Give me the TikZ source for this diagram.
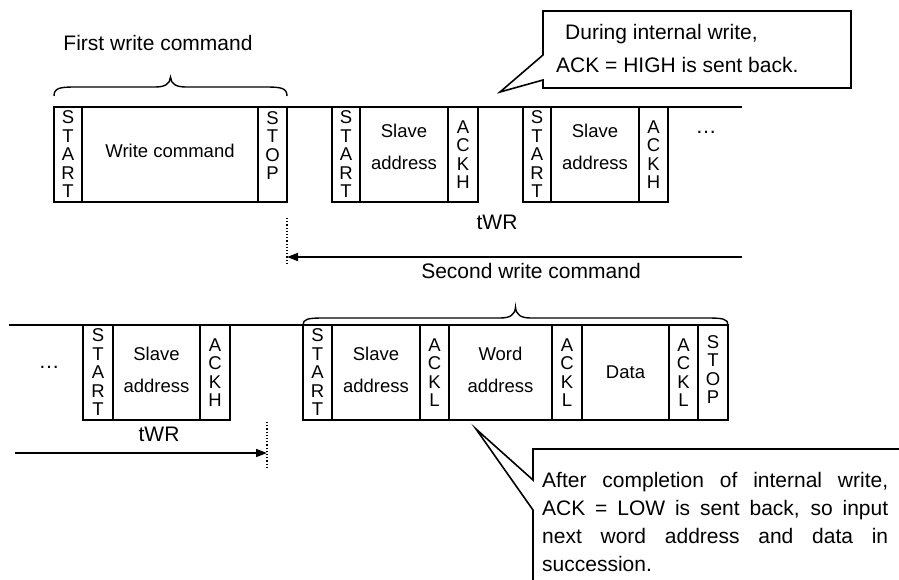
\documentclass[tikz,border=0pt]{standalone}
\usepackage{fontspec}
\setmainfont{Liberation Sans}
\usetikzlibrary{arrows.meta}
\begin{document}
\begin{tikzpicture}[x=1pt,y=-1pt,
  ln/.style={line width=1.6pt},
  cell/.style={draw,line width=1.6pt,minimum height=95pt,inner sep=0pt,outer sep=0pt},
  vtxt/.style={align=center,inner sep=0pt,font=\fontsize{18.5}{18.5}\selectfont},
  btxt/.style={align=center,inner sep=0pt,font=\fontsize{18.5}{32}\selectfont},
  lbl/.style={inner sep=0pt,font=\fontsize{21}{25}\selectfont},
  arr/.style={line width=1.6pt,-{Triangle[length=11pt,width=8pt]}},
  vdot/.style={line width=1.2pt,dotted}]
\useasboundingbox (0,0) rectangle (899,579);
\clip (0,0) rectangle (899,579);
% ---------- top row ----------
\node[cell,minimum width=28pt] (s1) at (68,154.5) {};
\node[cell,minimum width=176pt] (wc) at (170,154.5) {};
\node[cell,minimum width=29pt] (p1) at (272.5,154.5) {};
\node[cell,minimum width=28pt] (s2) at (346,154.5) {};
\node[cell,minimum width=88pt] (sa1) at (404,154.5) {};
\node[cell,minimum width=30pt] (a1) at (463,154.5) {};
\node[cell,minimum width=28pt] (s3) at (537,154.5) {};
\node[cell,minimum width=88pt] (sa2) at (595,154.5) {};
\node[cell,minimum width=29pt] (a2) at (653.5,154.5) {};
\node[vtxt] (s1t) at (s1) {S\\T\\A\\R\\T};
\node[btxt,yshift=4pt] (wct) at (wc) {Write command};
\node[vtxt,yshift=9pt] (p1t) at (p1) {S\\T\\O\\P};
\node[vtxt] (s2t) at (s2) {S\\T\\A\\R\\T};
\node[btxt,yshift=8pt] (sa1t) at (sa1) {Slave\\address};
\node[vtxt] (a1t) at (a1) {A\\C\\K\\H};
\node[vtxt] (s3t) at (s3) {S\\T\\A\\R\\T};
\node[btxt,yshift=8pt] (sa2t) at (sa2) {Slave\\address};
\node[vtxt] (a2t) at (a2) {A\\C\\K\\H};
\coordinate (tend) at (742,107);
\draw[ln] (p1.north east) -- (s2.north west);
\draw[ln] (a1.north east) -- (s3.north west);
\draw[ln] (a2.north east) -- (tend);
\node[lbl] (tdots) at (706,132) {…};
% first brace
\draw[line width=1.4pt] (54,96) .. controls (54,88) and (60,87) .. (75,87) -- (155,87)
  .. controls (165,87) and (170,84) .. (170.5,77) .. controls (171,84) and (176,87) .. (186,87)
  -- (266,87) .. controls (281,87) and (287,88) .. (287,96);
\node[lbl] (fwc) at (158,43) {First write command};
% callout 1
\draw[ln] (543,11) -- (851,11) -- (851,88) -- (543,88) -- (543,80) -- (500,92) -- (543,55) -- cycle;
\node[lbl,align=left,anchor=west,font=\fontsize{21}{33}\selectfont] (c1txt) at (556,48.5)
  {\hspace*{9pt}During internal write,\\ACK = HIGH is sent back.};
% tWR top
\node[lbl] (twr1) at (497,222) {tWR};
\coordinate (d1a) at (287,218);
\coordinate (d1b) at (287,264);
\draw[vdot] (d1a) -- (d1b);
\coordinate (ta) at (742,257);
\coordinate (tb) at (287,257);
\draw[arr] (ta) -- (tb);
\node[lbl] (swc) at (531,271) {Second write command};
% ---------- bottom row ----------
\node[cell,minimum width=30pt] (b1) at (98,372.5) {};
\node[cell,minimum width=87pt] (bsa) at (156.5,372.5) {};
\node[cell,minimum width=30pt] (ba) at (215,372.5) {};
\node[cell,minimum width=29pt] (c1) at (317.5,372.5) {};
\node[cell,minimum width=88pt] (c2) at (376,372.5) {};
\node[cell,minimum width=29pt] (c3) at (434.5,372.5) {};
\node[cell,minimum width=103pt] (c4) at (500.5,372.5) {};
\node[cell,minimum width=30pt] (c5) at (567,372.5) {};
\node[cell,minimum width=87pt] (c6) at (625.5,372.5) {};
\node[cell,minimum width=29pt] (c7) at (683.5,372.5) {};
\node[cell,minimum width=30pt] (c8) at (713,372.5) {};
\node[vtxt] (b1t) at (b1) {S\\T\\A\\R\\T};
\node[btxt,yshift=3pt] (bsat) at (bsa) {Slave\\address};
\node[vtxt] (bat) at (ba) {A\\C\\K\\H};
\node[vtxt] (c1t) at (c1) {S\\T\\A\\R\\T};
\node[btxt,yshift=3pt] (c2t) at (c2) {Slave\\address};
\node[vtxt] (c3t) at (c3) {A\\C\\K\\L};
\node[btxt,yshift=3pt] (c4t) at (c4) {Word\\address};
\node[vtxt] (c5t) at (c5) {A\\C\\K\\L};
\node[btxt] (c6t) at (c6) {Data};
\node[vtxt] (c7t) at (c7) {A\\C\\K\\L};
\node[vtxt,yshift=3pt] (c8t) at (c8) {S\\T\\O\\P};
\coordinate (bstart) at (9,325);
\draw[ln] (bstart) -- (b1.north west);
\draw[ln] (ba.north east) -- (c1.north west);
\node[lbl] (bdots) at (49,367) {…};
% second brace
\draw[line width=1.4pt] (303,325) .. controls (303,319) and (308,318) .. (323,318) -- (500,318)
  .. controls (510,318) and (515,315) .. (515.5,307) .. controls (516,315) and (521,318) .. (531,318)
  -- (708,318) .. controls (723,318) and (728,319) .. (728,325);
% tWR bottom
\node[lbl] (twr2) at (159,434) {tWR};
\coordinate (d2a) at (267,422);
\coordinate (d2b) at (267,468);
\draw[vdot] (d2a) -- (d2b);
\coordinate (ba0) at (15,453);
\coordinate (ba1) at (267,453);
\draw[arr] (ba0) -- (ba1);
% callout 2
\draw[ln] (905,449) -- (533,449) -- (533,480) -- (476,429) -- (533,510) -- (533,585);
\node[lbl,align=left,anchor=north west,font=\fontsize{21}{28}\selectfont] (c2txt) at (542,472)
  {\makebox[346pt][s]{After completion of internal write,}\\
   \makebox[346pt][s]{ACK = LOW is sent back, so input}\\
   \makebox[346pt][s]{next word address and data in}\\
   succession.};
\end{tikzpicture}
\end{document}
